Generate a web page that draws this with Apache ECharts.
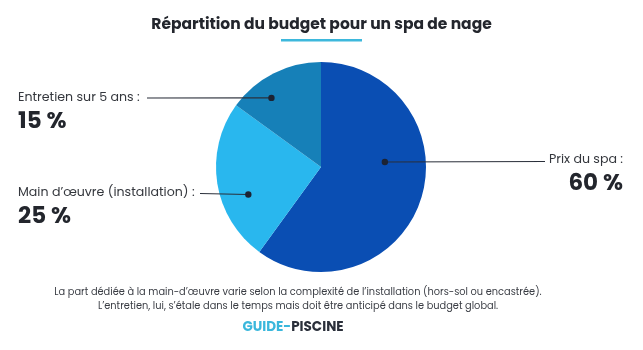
<!DOCTYPE html>
<html><head><meta charset="utf-8">
<script src="https://cdn.jsdelivr.net/npm/echarts@6/dist/echarts.min.js"></script>
<style>html,body{margin:0;padding:0;background:#fff}#c{width:643px;height:350px}</style>
</head><body><div id="c"></div>
<script>
const categories = ['Prix du spa', 'Main d\u2019\u0153uvre (installation)', 'Entretien sur 5 ans'];
const values = [60, 25, 15];
const valueLabels = ['60 %', '25 %', '15 %'];

const colors = ['#0a4eb3', '#29b7ee', '#1680b8'];
const FONT = 'Poppins, Inter, "Open Sans", sans-serif';
const CX = 321, CY = 167, R = 105;
// anchor of the dot inside each slice (fraction of slice angle, fraction of radius)
const anchorFrac = [[0.396, 0.61], [0.37, 0.74], [0.34, 0.81]];
// label placement: [x, top y, align, line end x, line y]
const labelPos = [[623, 149, 'right', 545, 161.5], [18, 182, 'left', 200, 193.5], [18, 87, 'left', 147, 98]];

const total = values.reduce((a, b) => a + b, 0);
function dotPos(i) {
  let start = 0;
  for (let k = 0; k < i; k++) start += values[k] / total * 360;
  const ang = start + anchorFrac[i][0] * values[i] / total * 360;
  const rad = ang * Math.PI / 180;
  const r = anchorFrac[i][1] * R;
  return [CX + r * Math.sin(rad), CY - r * Math.cos(rad)];
}

const chart = echarts.init(document.getElementById('c'));
const marks = [];
values.forEach((v, i) => {
  const p = dotPos(i);
  const lp = labelPos[i];
  marks.push({ type: 'line', shape: { x1: p[0], y1: p[1], x2: lp[3], y2: lp[4] }, style: { stroke: '#2a2f3a', lineWidth: 1.1 }, z: 99 });
  marks.push({ type: 'circle', shape: { cx: p[0], cy: p[1], r: 3.2 }, style: { fill: '#1c2333' }, z: 100 });
});

chart.setOption({
  animation: false,
  backgroundColor: '#ffffff',
  title: {
    text: 'R\u00e9partition du budget pour un spa de nage',
    left: 'center', top: 12,
    textStyle: { fontFamily: FONT, fontSize: 15.5, fontWeight: 'bold', color: '#23262d' }
  },
  graphic: [
    { type: 'rect', shape: { x: 281, y: 39, width: 81, height: 2.5 }, style: { fill: '#3db8dc' } },
    {
      type: 'text', x: 298, y: 286, style: {
        text: 'La part d\u00e9di\u00e9e \u00e0 la main-d\u2019\u0153uvre varie selon la complexit\u00e9 de l\u2019installation (hors-sol ou encastr\u00e9e).\nL\u2019entretien, lui, s\u2019\u00e9tale dans le temps mais doit \u00eatre anticip\u00e9 dans le budget global.',
        textAlign: 'center', fill: '#3a3d44', fontFamily: FONT, fontSize: 9.8, lineHeight: 14
      }
    },
    {
      type: 'text', x: 293, y: 321, style: {
        text: '{g|GUIDE-}{p|PISCINE}', textAlign: 'center',
        rich: {
          g: { fill: '#3ab7dc', fontFamily: FONT, fontSize: 13.5, fontWeight: 'bold' },
          p: { fill: '#2a2f3a', fontFamily: FONT, fontSize: 13.5, fontWeight: 'bold' }
        }
      }
    }
  ].concat(marks),
  series: [{
    type: 'pie',
    center: [CX, CY],
    radius: [0, R],
    startAngle: 90,
    clockwise: true,
    silent: true,
    avoidLabelOverlap: false,
    data: categories.map((c, i) => ({ name: c, value: values[i], itemStyle: { color: colors[i] } })),
    label: {
      show: true,
      position: 'outside',
      overflow: 'none',
      width: 300,
      formatter: p => '{n|' + p.name + ' :}\n{v|' + valueLabels[p.dataIndex] + '}',
      rich: {
        n: { fontFamily: FONT, fontSize: 12.6, color: '#34373d', lineHeight: 22 },
        v: { fontFamily: FONT, fontSize: 23, fontWeight: 'bold', color: '#23262d', lineHeight: 26 }
      }
    },
    labelLine: { show: false },
    labelLayout: function (params) {
      const lp = labelPos[params.dataIndex];
      return { x: lp[0], y: lp[1], align: lp[2], verticalAlign: 'top' };
    }
  }]
});
</script></body></html>
